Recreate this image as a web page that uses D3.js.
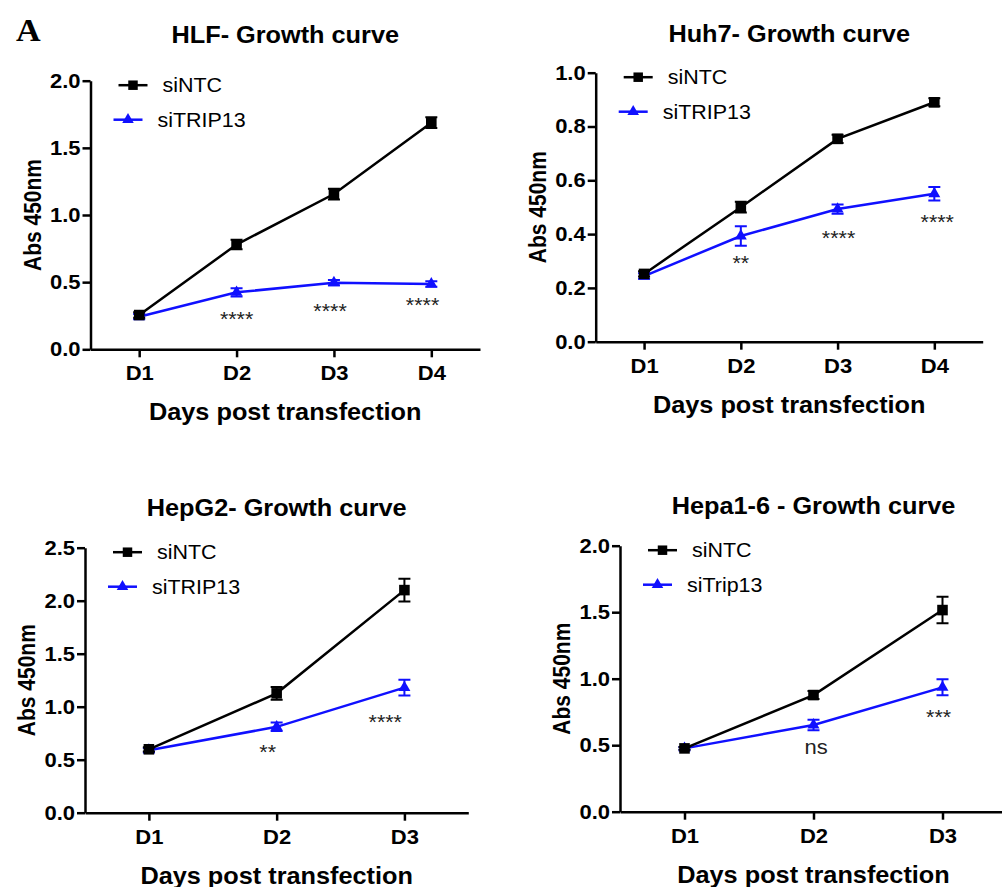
<!DOCTYPE html>
<html>
<head>
<meta charset="utf-8">
<script src="https://cdn.jsdelivr.net/npm/d3@7"></script>
<style>
  body { margin: 0; background: #fff; }
  svg { display: block; font-family: "Liberation Sans", Arial, sans-serif; }
</style>
</head>
<body>
<svg id="chart" width="1002" height="887"></svg>
<script>
// categories
const days4 = ["D1", "D2", "D3", "D4"];
const days3 = ["D1", "D2", "D3"];
const namesHuman = ["siNTC", "siTRIP13"];
const namesMouse = ["siNTC", "siTrip13"];

// HLF
const hlfNTC = [0.255, 0.78, 1.156, 1.687];
const hlfNTCErr = [0.02, 0.035, 0.04, 0.04];
const hlfTRIP = [0.243, 0.424, 0.496, 0.486];
const hlfTRIPErr = [0.02, 0.03, 0.02, 0.02];
const hlfSig = ["****", "****", "****"];
const hlfSigDay = [2.0, 2.96, 3.91];
const hlfSigVal = [0.255, 0.315, 0.362];

// Huh7
const huhNTC = [0.252, 0.50, 0.754, 0.89];
const huhNTCErr = [0.01, 0.02, 0.015, 0.015];
const huhTRIP = [0.244, 0.393, 0.493, 0.55];
const huhTRIPErr = [0.01, 0.036, 0.017, 0.025];
const huhSig = ["**", "****", "****"];
const huhSigDay = [2.0, 3.01, 4.03];
const huhSigVal = [0.31, 0.40, 0.46];

// HepG2
const hepNTC = [0.598, 1.126, 2.10];
const hepNTCErr = [0.02, 0.06, 0.107];
const hepTRIP = [0.59, 0.81, 1.18];
const hepTRIPErr = [0.02, 0.04, 0.075];
const hepSig = ["**", "****"];
const hepSigDay = [1.93, 2.85];
const hepSigVal = [0.613, 0.90];

// Hepa1-6
const hepaNTC = [0.476, 0.877, 1.516];
const hepaNTCErr = [0.01, 0.03, 0.1];
const hepaTrip = [0.476, 0.652, 0.935];
const hepaTripErr = [0.01, 0.04, 0.06];
const hepaSig = ["ns", "***"];
const hepaSigDay = [2.02, 2.97];
const hepaSigVal = [0.477, 0.747];

const SX = 1.1; // source figure is slightly stretched horizontally
const BLUE = "#1010ff";

const panels = [
  {title: "HLF- Growth curve", days: days4, names: namesHuman,
   ntc: hlfNTC, ntcErr: hlfNTCErr, kd: hlfTRIP, kdErr: hlfTRIPErr,
   sig: hlfSig, sigDay: hlfSigDay, sigVal: hlfSigVal,
   yMax: 2.0, yStep: 0.5, left: 90.5, right: 480, top: 80.7, bottom: 349.3, titleY: 43},
  {title: "Huh7- Growth curve", days: days4, names: namesHuman,
   ntc: huhNTC, ntcErr: huhNTCErr, kd: huhTRIP, kdErr: huhTRIPErr,
   sig: huhSig, sigDay: huhSigDay, sigVal: huhSigVal,
   yMax: 1.0, yStep: 0.2, left: 595.7, right: 982.7, top: 72.7, bottom: 341.7, titleY: 42},
  {title: "HepG2- Growth curve", days: days3, names: namesHuman,
   ntc: hepNTC, ntcErr: hepNTCErr, kd: hepTRIP, kdErr: hepTRIPErr,
   sig: hepSig, sigDay: hepSigDay, sigVal: hepSigVal,
   yMax: 2.5, yStep: 0.5, left: 85, right: 468.3, top: 547.7, bottom: 812.7, titleY: 516},
  {title: "Hepa1-6 - Growth curve", days: days3, names: namesMouse,
   ntc: hepaNTC, ntcErr: hepaNTCErr, kd: hepaTrip, kdErr: hepaTripErr,
   sig: hepaSig, sigDay: hepaSigDay, sigVal: hepaSigVal,
   yMax: 2.0, yStep: 0.5, left: 620, right: 1007, top: 545.7, bottom: 811.7, titleY: 513.5}
];

const svg = d3.select("#chart");

function addText(g, x, y, txt, size, weight, anchor, fill) {
  return g.append("text")
    .attr("transform", `translate(${x},${y}) scale(${SX},1)`)
    .attr("text-anchor", anchor || "middle")
    .attr("font-size", size)
    .attr("font-weight", weight || "normal")
    .attr("fill", fill || "#000")
    .text(txt);
}

// panel label
svg.append("text")
  .attr("transform", `translate(16,41) scale(${SX},1)`)
  .attr("font-family", "'Liberation Serif', 'DejaVu Serif', serif")
  .attr("font-weight", "bold")
  .attr("font-size", 31)
  .text("A");

function drawPanel(p) {
  const g = svg.append("g");
  const n = p.days.length;
  const x = d3.scaleLinear().domain([0.5, n + 0.5]).range([p.left, p.right]);
  const y = d3.scaleLinear().domain([0, p.yMax]).range([p.bottom, p.top]);
  const midX = (p.left + p.right) / 2;

  // axes
  const xAxis = g.append("g")
    .attr("transform", `translate(0,${p.bottom})`)
    .call(d3.axisBottom(x)
      .tickValues(d3.range(1, n + 1))
      .tickFormat(i => p.days[i - 1])
      .tickSize(8).tickPadding(9).tickSizeOuter(0));
  const yAxis = g.append("g")
    .attr("transform", `translate(${p.left},0)`)
    .call(d3.axisLeft(y)
      .tickValues(d3.range(0, p.yMax + 1e-9, p.yStep))
      .tickFormat(d3.format(".1f"))
      .tickSize(8).tickPadding(2).tickSizeOuter(0));

  [xAxis, yAxis].forEach(a => {
    a.attr("font-family", null).attr("font-size", null);
    a.selectAll("path, line").attr("stroke", "#000").attr("stroke-width", 2.5);
    a.selectAll("text")
      .attr("font-size", 20).attr("font-weight", "bold").attr("fill", "#000");
  });
  xAxis.selectAll("text").attr("transform", `scale(${SX},1)`);
  yAxis.selectAll("text").attr("x", -10 / SX).attr("transform", `scale(${SX},1)`);

  // titles
  addText(g, midX, p.titleY, p.title, 23, "bold");
  addText(g, midX, p.bottom + 71, "Days post transfection", 23, "bold");
  g.append("text")
    .attr("transform", `translate(${p.left - 50},${(p.top + p.bottom) / 2}) rotate(-90) scale(1,${SX})`)
    .attr("text-anchor", "middle")
    .attr("font-size", 21)
    .attr("font-weight", "bold")
    .text("Abs 450nm");

  const series = [
    {vals: p.kd, err: p.kdErr, color: BLUE, sym: d3.symbolTriangle, size: 62},
    {vals: p.ntc, err: p.ntcErr, color: "#000", sym: d3.symbolSquare, size: 112}
  ];

  const line = d3.line().x((d, i) => x(i + 1)).y(d => y(d));

  series.forEach(s => {
    g.append("path")
      .datum(s.vals)
      .attr("d", line)
      .attr("fill", "none")
      .attr("stroke", s.color)
      .attr("stroke-width", 2.5);

    const eb = g.append("g").attr("stroke", s.color).attr("stroke-width", 2).attr("fill", "none");
    s.vals.forEach((v, i) => {
      const cx = x(i + 1), lo = y(v - s.err[i]), hi = y(v + s.err[i]);
      eb.append("path")
        .attr("d", `M${cx},${lo}V${hi}M${cx - 6},${lo}H${cx + 6}M${cx - 6},${hi}H${cx + 6}`);
    });

    g.selectAll(null)
      .data(s.vals)
      .join("path")
      .attr("transform", (d, i) => `translate(${x(i + 1)},${y(d)})`)
      .attr("d", d3.symbol().type(s.sym).size(s.size))
      .attr("fill", s.color);
  });

  // significance marks
  p.sig.forEach((t, i) => {
    const isStar = t.indexOf("*") >= 0;
    g.append("text")
      .attr("transform", `translate(${x(p.sigDay[i])},${y(p.sigVal[i])}) scale(${SX},1)`)
      .attr("dy", isStar ? "0.58em" : "0.27em")
      .attr("text-anchor", "middle")
      .attr("font-size", isStar ? 19.5 : 20)
      .attr("fill", "#222")
      .text(t);
  });

  // legend (black entry above, blue entry below, as in the source)
  const leg = [
    {name: p.names[0], color: "#000", sym: d3.symbolSquare, size: 90, x0: 28, x1: 57, dy: 4.5, tx: 72},
    {name: p.names[1], color: BLUE, sym: d3.symbolTriangle, size: 58, x0: 23, x1: 52, dy: 39, tx: 67}
  ];
  leg.forEach(l => {
    const ly = p.top + l.dy;
    g.append("line")
      .attr("x1", p.left + l.x0).attr("x2", p.left + l.x1)
      .attr("y1", ly).attr("y2", ly)
      .attr("stroke", l.color).attr("stroke-width", 2.5);
    g.append("path")
      .attr("transform", `translate(${p.left + (l.x0 + l.x1) / 2},${ly})`)
      .attr("d", d3.symbol().type(l.sym).size(l.size))
      .attr("fill", l.color);
    addText(g, p.left + l.tx, ly + 7, l.name, 19.5, "normal", "start");
  });
}

panels.forEach(drawPanel);
</script>
</body>
</html>
